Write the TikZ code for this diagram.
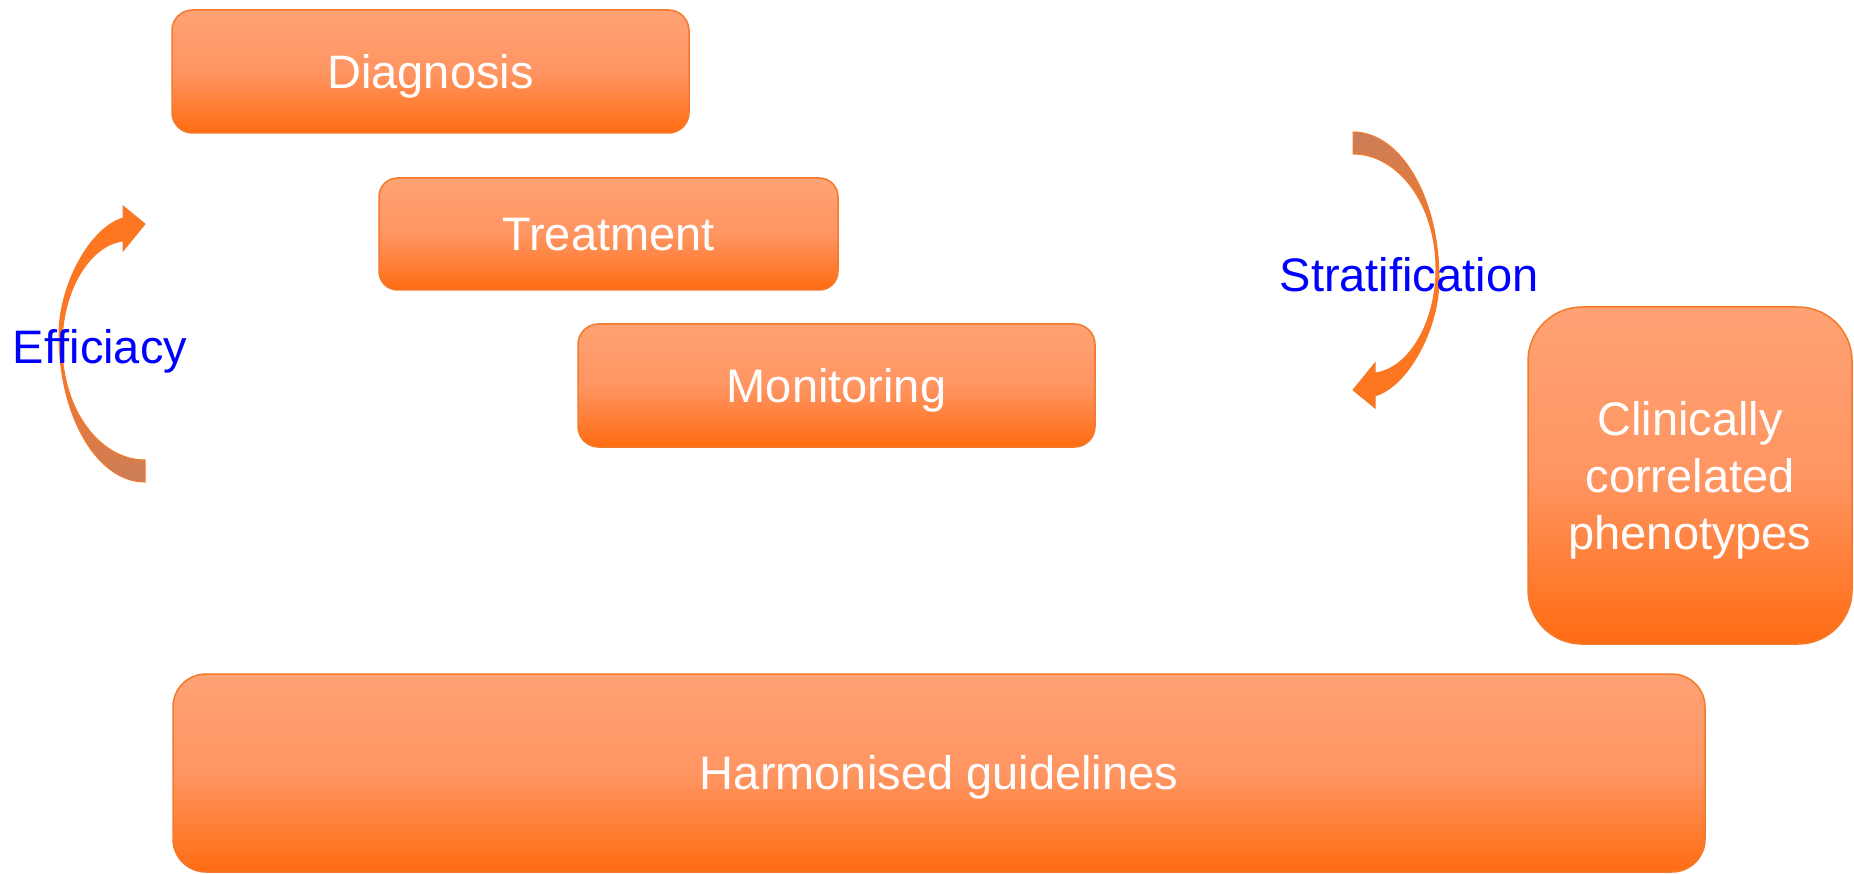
\documentclass[tikz,border=0pt]{standalone}
\usepackage{fontspec}
\setmainfont{Liberation Sans}
\definecolor{boxTop}{HTML}{FFA274}
\definecolor{boxMid}{HTML}{FF9562}
\definecolor{boxBot}{HTML}{FF6C12}
\definecolor{boxLine}{HTML}{F27A2A}
\definecolor{arrOrange}{HTML}{FF7620}
\definecolor{arrBrown}{HTML}{CB7E5A}
\definecolor{lblBlue}{HTML}{0000FF}
\begin{document}
\begin{tikzpicture}[x=1pt,y=-1pt,
  box/.style={draw=boxLine, line width=1.5pt, top color=boxTop, bottom color=boxBot, middle color=boxMid,
    text=white, font=\fontsize{47}{57}\selectfont, inner sep=0pt, text height=33.7pt, text depth=0pt, align=center},
  lbl/.style={text=lblBlue, font=\fontsize{47}{57}\selectfont, inner sep=0pt, anchor=base},
  curvedarrow/.style={draw=boxLine, line width=1pt}]
\useasboundingbox (0,0) rectangle (1854,874);

% boxes
\node[box, rounded corners=20.5pt, minimum width=517pt, minimum height=123pt] (diag) at (430.5,71.5) {Diagnosis};
\node[box, rounded corners=18.7pt, minimum width=459pt, minimum height=112pt] (treat) at (608.5,234) {Treatment};
\node[box, rounded corners=20.5pt, minimum width=517pt, minimum height=123pt] (monit) at (836.5,385.5) {Monitoring};
\node[box, rounded corners=33pt, minimum width=1532pt, minimum height=198pt] (harm) at (939,773) {Harmonised guidelines};
\node[box, rounded corners=54pt, minimum width=324pt, minimum height=337pt, text height=148pt] (clin) at (1690,475.5) {Clinically\\correlated\\phenotypes};

% curved arrows
\path[curvedarrow, top color=arrOrange, bottom color=arrBrown, middle color=arrOrange]
  (145,482) .. controls (97,482) and (59,416) .. (59,335)
  .. controls (59,285) and (90,228) .. (123,218)
  -- (123,206) -- (145,224) -- (123,251) -- (123,241)
  .. controls (90,245) and (62,290) .. (62,345)
  .. controls (62,410) and (100,460) .. (145,460) -- cycle;
\path[curvedarrow, top color=arrBrown, bottom color=arrOrange, middle color=arrOrange]
  (1353,132) .. controls (1401,132) and (1439,198) .. (1439,279)
  .. controls (1439,329) and (1408,386) .. (1375,396)
  -- (1375,408) -- (1353,390) -- (1375,363) -- (1375,373)
  .. controls (1408,369) and (1436,324) .. (1436,269)
  .. controls (1436,204) and (1398,154) .. (1353,154) -- cycle;

% labels
\node[lbl] (eff) at (100,363) {Efficiacy};
\node[lbl] (strat) at (1409,292) {Stratification};
\end{tikzpicture}
\end{document}
